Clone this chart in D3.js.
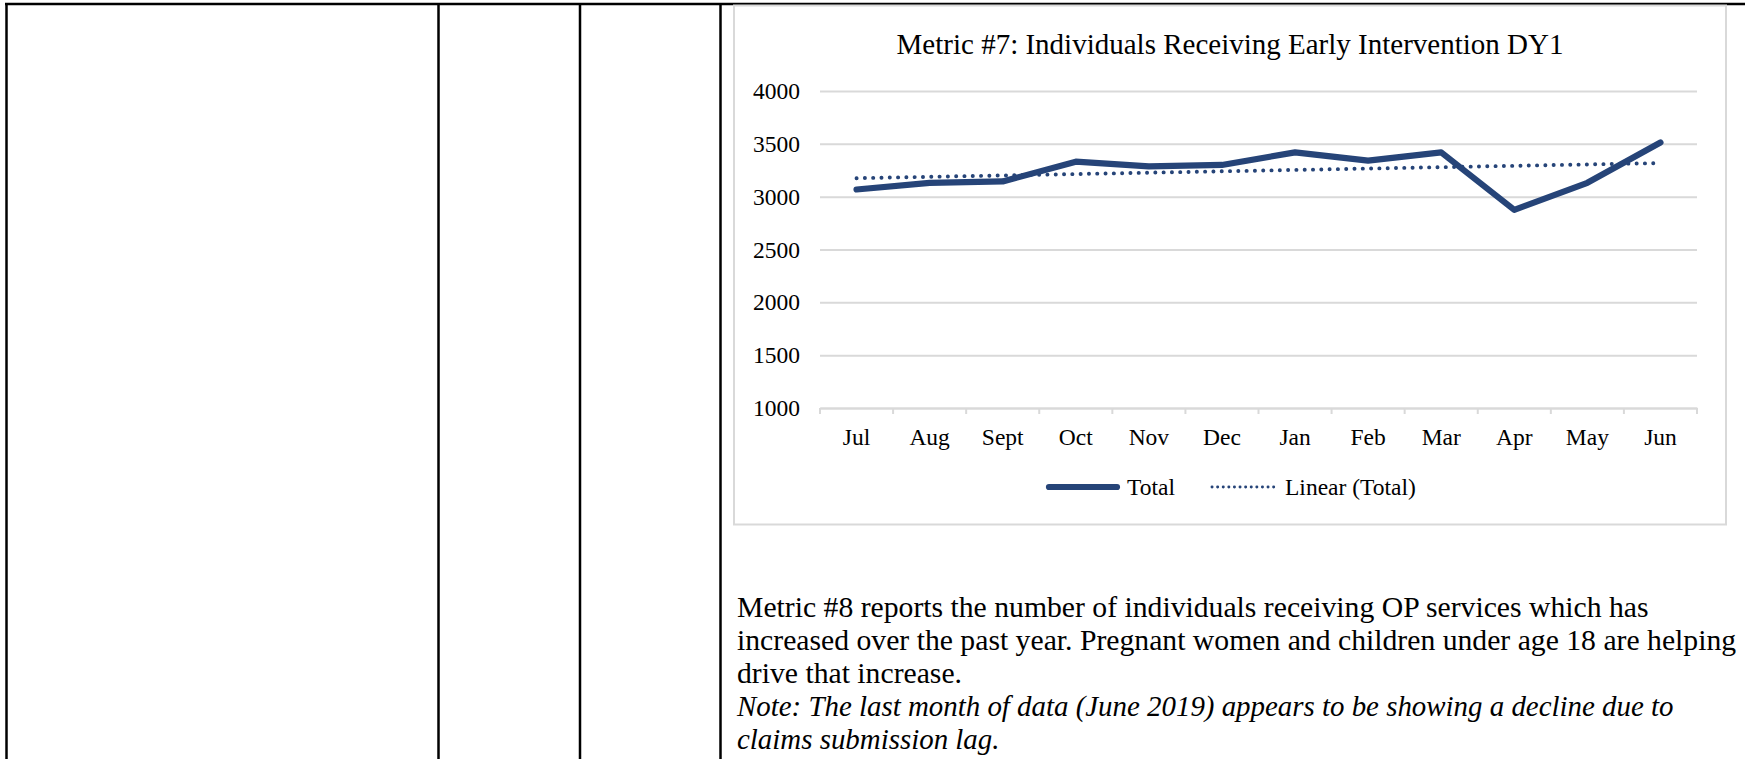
<!DOCTYPE html>
<html>
<head>
<meta charset="utf-8">
<script src="https://cdn.jsdelivr.net/npm/d3@7"></script>
<style>
  html, body { margin: 0; padding: 0; background: #fff; }
  svg { display: block; }
  text { font-family: "Liberation Serif", "Times New Roman", serif; fill: #000; }
</style>
</head>
<body>
<svg id="chart" width="1745" height="759"></svg>
<script>
// ---- data ----
const months = ["Jul", "Aug", "Sept", "Oct", "Nov", "Dec", "Jan", "Feb", "Mar", "Apr", "May", "Jun"];
const totalValues = [3068, 3131, 3144, 3331, 3287, 3300, 3419, 3341, 3419, 2875, 3131, 3512];
const yTicks = [1000, 1500, 2000, 2500, 3000, 3500, 4000];
const seriesNames = ["Total", "Linear (Total)"];
const chartTitle = "Metric #7: Individuals Receiving Early Intervention DY1";
const bodyLines = [
  "Metric #8 reports the number of individuals receiving OP services which has",
  "increased over the past year. Pregnant women and children under age 18 are helping",
  "drive that increase."
];
const noteLines = [
  "Note: The last month of data (June 2019) appears to be showing a decline due to",
  "claims submission lag."
];

const svg = d3.select("#chart");
const W = 1745, H = 759;
const lineColor = "#264478";
const gridColor = "#d9d9d9";

// ---- table borders ----
svg.append("line").attr("x1", 5).attr("x2", W).attr("y1", 4).attr("y2", 4)
  .attr("stroke", "#000").attr("stroke-width", 2.5);
[6.5, 438.5, 580, 720.5].forEach(x => {
  svg.append("line").attr("x1", x).attr("x2", x).attr("y1", 3).attr("y2", H)
    .attr("stroke", "#000").attr("stroke-width", 2.5);
});

// ---- chart box ----
const box = {x: 734, y: 5.5, w: 992, h: 519};
svg.append("rect").attr("x", box.x).attr("y", box.y).attr("width", box.w).attr("height", box.h)
  .attr("fill", "#fff").attr("stroke", gridColor).attr("stroke-width", 2);

// title
svg.append("text").attr("x", box.x + box.w / 2).attr("y", 54)
  .attr("text-anchor", "middle").style("font-size", "29px").text(chartTitle);

// scales
const plot = {left: 820, right: 1697, top: 91, bottom: 408};
const x = d3.scaleBand().domain(months).range([plot.left, plot.right]).padding(0);
const y = d3.scaleLinear().domain([1000, 4000]).range([plot.bottom, plot.top]);

// gridlines + y labels
const yAxis = d3.axisLeft(y).tickValues(yTicks).tickFormat(d3.format("d"))
  .tickSize(-(plot.right - plot.left)).tickPadding(20);
const gy = svg.append("g").attr("transform", `translate(${plot.left},0)`).call(yAxis);
gy.select(".domain").remove();
gy.selectAll(".tick line").attr("stroke", gridColor).attr("stroke-width", 2);
gy.selectAll(".tick text").style("font-size", "23.5px").attr("fill", "#000")
  .attr("x", -20).attr("dy", "0.32em");

// x axis
const xAxis = d3.axisBottom(x).tickSize(0).tickPadding(20);
const gx = svg.append("g").attr("transform", `translate(0,${plot.bottom})`).call(xAxis);
gx.select(".domain").attr("stroke", gridColor).attr("stroke-width", 2);
gx.selectAll(".tick text").style("font-size", "23.5px").attr("fill", "#000");
// category boundary tick marks
const boundaries = months.map(m => x(m)).concat([plot.right]);
gx.selectAll(".bnd").data(boundaries).enter().append("line")
  .attr("class", "bnd").attr("x1", d => d).attr("x2", d => d)
  .attr("y1", 0).attr("y2", 6).attr("stroke", gridColor).attr("stroke-width", 2);

// linear trend (least squares on the Total series)
const n = totalValues.length;
const idx = d3.range(n);
const mx = d3.mean(idx), my = d3.mean(totalValues);
const slope = d3.sum(idx, i => (i - mx) * (totalValues[i] - my)) / d3.sum(idx, i => (i - mx) * (i - mx));
const intercept = my - slope * mx;
const trendValues = idx.map(i => intercept + slope * i);

const lineGen = d3.line().x((d, i) => x(months[i]) + x.bandwidth() / 2).y(d => y(d));

svg.append("path").datum(trendValues).attr("d", lineGen)
  .attr("fill", "none").attr("stroke", lineColor).attr("stroke-width", 3.9)
  .attr("stroke-linecap", "round").attr("stroke-dasharray", "0.1 8.2");

svg.append("path").datum(totalValues).attr("d", lineGen)
  .attr("fill", "none").attr("stroke", lineColor).attr("stroke-width", 6.2)
  .attr("stroke-linejoin", "round").attr("stroke-linecap", "round");

// legend
const legY = 487;
const leg = svg.append("g");
leg.append("line").attr("x1", 1049).attr("x2", 1117).attr("y1", legY).attr("y2", legY)
  .attr("stroke", lineColor).attr("stroke-width", 6.2).attr("stroke-linecap", "round");
leg.append("text").attr("x", 1127).attr("y", legY).attr("dy", "0.33em")
  .style("font-size", "23.5px").text(seriesNames[0]);
leg.append("line").attr("x1", 1212).attr("x2", 1279).attr("y1", legY).attr("y2", legY)
  .attr("stroke", lineColor).attr("stroke-width", 2.9)
  .attr("stroke-linecap", "round").attr("stroke-dasharray", "0.1 5.5");
leg.append("text").attr("x", 1285).attr("y", legY).attr("dy", "0.33em")
  .style("font-size", "23.5px").text(seriesNames[1]);

// body text
const bodyX = 737;
const baselines = [617, 650, 683, 716, 749];
bodyLines.forEach((t, i) => {
  svg.append("text").attr("x", bodyX).attr("y", baselines[i]).style("font-size", "29.7px").text(t);
});
noteLines.forEach((t, i) => {
  svg.append("text").attr("x", bodyX).attr("y", baselines[bodyLines.length + i])
    .style("font-size", "28.9px").style("font-style", "italic").text(t);
});
</script>
</body>
</html>
